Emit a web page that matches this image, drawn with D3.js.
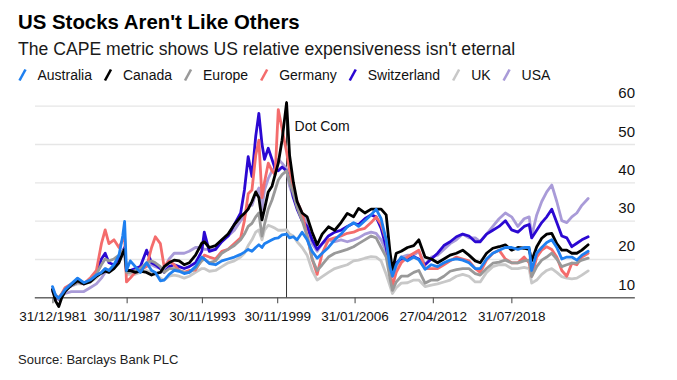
<!DOCTYPE html>
<html><head><meta charset="utf-8">
<script src="https://cdn.jsdelivr.net/npm/d3@7"></script>
<style>
html,body{margin:0;padding:0;background:#fff;}
svg{display:block;font-family:"Liberation Sans",Arial,Helvetica,sans-serif;}
</style></head><body>
<svg id="chart" width="677" height="380"></svg>
<script>
// ---- data (decimal years, CAPE values) ----
const dates = [1982.0,1982.25,1982.5,1982.75,1983.0,1983.5,1984.0,1984.5,1985.0,1985.5,
 1985.9,1986.2,1986.5,1986.9,1987.3,1987.6,1987.75,1987.9,1988.2,1988.6,
 1989.0,1989.5,1989.9,1990.2,1990.6,1990.9,1991.3,1991.7,
 1992.1,1992.5,1992.9,1993.4,1993.9,1994.1,1994.5,1995.0,1995.5,1996.0,1996.5,
 1997.0,1997.3,1997.6,1997.9,1998.2,1998.45,1998.7,1998.9,1999.2,1999.5,1999.75,
 2000.0,2000.3,2000.66,2000.9,2001.2,2001.5,2001.9,2002.3,2002.7,2003.1,2003.5,
 2004.0,2004.5,2005.0,2005.5,2006.0,2006.4,2006.9,2007.4,2007.8,2008.2,2008.6,2008.9,
 2009.1,2009.4,2009.8,2010.3,2010.8,2011.2,2011.7,2012.2,2012.7,2013.2,2013.7,2014.2,2014.7,
 2015.2,2015.7,2016.1,2016.6,2017.1,2017.6,2018.1,2018.6,2019.1,2019.6,2020.0,2020.2,2020.6,
 2021.0,2021.4,2021.8,2022.2,2022.6,2023.0,2023.4,2023.8,2024.2,2024.7];

const australia = [12.8,10.5,9.8,10.8,12,13.5,15,13.8,14.5,15.8,
 16.5,17.5,17,18.5,21,26,29.8,17,19.5,18,
 16.5,19,17,16.5,14.3,14.5,16,17,
 16.8,16.2,16.5,18,20.5,20,18.8,18.5,19.5,20,20.5,
 21.2,21.8,22.5,22,23,23.7,23,24,24.5,25,25.4,
 25.5,26.3,26.5,25.5,25.8,25,27,25,22,20.2,21.5,
 23,25,26.5,28.4,29.5,28.5,30,31.5,33,30.5,25,18,
 15.5,18.5,20.5,19.5,20.5,19.8,17.3,18.5,18,19,19.7,20,19.7,
 19,17.5,17.5,20,21.5,22.3,23,23,22.5,23,23,17,21.5,
 23,24.3,25,23,20,20.5,20.5,19.7,21,22];

const canada = [12,9,7.6,10,11.5,13.2,14.3,13.5,14,15.5,
 16.3,16.8,16.5,17.5,19,21.5,22.5,17,17,16.5,
 16.8,16.5,15.8,16.2,16.5,18,19,19.7,
 19.5,18.5,19,21,24.1,24.5,23,23.5,25,26.5,29,
 31,31.9,33,35,37.5,36,30.2,33,37.5,39,42,
 45,51,60.8,47,40,35,32,31,27,23.7,26.5,
 28.4,27.5,29.5,31.9,31,33.2,32,33,33,33,31.5,22,
 17,21.5,22,23,23.5,25,20.5,20,19,20,21,21.5,22.3,
 21,19.5,19,21.5,22.8,23.2,23.7,22.3,23,22.8,22.5,19.5,23.2,
 25.4,26.5,26.7,24,22.3,22.3,21.5,21.5,22.3,23.7];

const europe = [12,10.5,9.5,10.5,12,13,14,13.5,14.5,16,
 18.5,20,19.5,20,21,22,22.5,16.5,16.5,17,
 17.5,19,19.5,19,18,16.5,17.5,17.5,
 17,16.5,16.5,17.5,19.5,20,19,19.5,21.5,22.5,23.5,
 25,26.5,28.5,29.3,31,32,26,29,33,35.4,38,
 40.6,42,43,40,37,33.5,30,26,20,17,18.5,
 20.5,21.5,22,22.5,23.2,24,25,26,25.5,23,20.5,15,
 11.8,14,15.5,15.5,16.5,17,13.7,14.5,14.5,15.5,16.8,17.2,17.5,
 17.5,16.2,15.8,17.5,18.9,19.2,19.7,19,19,19.5,19.7,15.4,18,
 19.7,20.5,21.5,20,18,18.5,18.9,19,19.7,20.2];

const germany = [12,10.5,9.8,11,12.5,13.5,14,13.5,15,17,
 24,27.6,24,25,23,25,25.8,14,15,16.5,
 17.1,18,23,25.8,24,18,19.5,18.5,
 17,16.5,17,17.1,20,21,20.5,20,22,22.5,24,
 25.5,30,37,38,47,51,36,40,45,43,42,
 59,54,48,43,38,35,32,26,20,16,21.5,
 25,25.5,26,26.7,27,27.6,28,29.5,31,29,25,17,
 13,16.5,19,20.5,21.5,22.3,17.5,17.5,17.5,18.5,19.5,20.5,20,
 19.5,17.5,16.5,19.7,21.5,22.3,20,19,19,20.5,19,15.5,20.5,
 22.3,23.2,22.5,20.5,17,15.5,18.9,18.5,20.5,21.5];

const switzerland = [12,10,9.5,10.5,12,13,14,13.5,14.5,16.5,
 20,21.5,19,18.5,20,22,23,16.5,17,17.5,
 18,22.3,19,18.5,17.5,16.5,18,18.5,
 18,17.5,18,19,22,27,22,22.5,24.5,26,29,
 32,38,46.7,41.5,52,58,50,46,48.9,46,43.5,
 43,44,43,41,36,33,30,28.5,25,22.5,24,
 26,27,27.5,28.5,29.3,29,30.5,31.5,31,28,23,18,
 16.5,19,20,20,20.6,20,18.5,20,21.5,23.5,24.5,25.8,26.5,
 26,24.5,24.5,26.5,27.5,28.5,30,27.6,27,28.5,29,25.5,27.5,
 29.5,31,33,29.5,26,25.5,23.2,24.1,25,25.8];

const uk = [12,10.5,10,11,12,13,13.5,13.5,14,15,
 16.5,17.5,17,18,19.5,21,21.5,16,16,16,
 16.5,17,16.5,16,15,14.5,15.5,15.8,
 15.5,15,15.5,16.5,17.5,17.5,16.8,17,18,19,19.5,
 20.5,21.5,23.5,25,27,27.6,25,27.5,28.8,28.4,28,
 27.5,27.5,27.6,26.5,26,24.5,23,21,17,14.5,15.4,
 16.5,17.5,18,18.5,19.5,19.7,20.2,20.6,20.5,19.5,16,13,
 11,12.5,13.7,13.8,14.5,14.5,12.8,13.2,13.5,14,14.5,15.5,16,
 15.5,14,14,16.5,18,18.5,18.5,17.5,17.5,17.8,17.5,13.7,14.5,
 16,17,17.5,16.5,15.4,15,14.8,15,15.8,16.9];

const usa = [11.5,10,9.5,10.5,11,11.5,11.5,11.5,12.5,13.5,
 15,16.5,17,17.5,19.5,21.5,21,16.5,16.5,16.5,
 17.5,18.5,18.5,18,17.5,17.5,20,21.5,
 21.5,21.5,22,23,23,22.5,22.5,22.5,25,26,27.5,
 30,31,34,34,37,38.5,33,38,41,43,44,
 46,45,43.5,39,36,35,32,29,24,22,24,
 25,24.5,25,24.5,25,25.5,26.5,27,26.7,25,22,17,
 15.4,18,20.5,21,21,22,18.5,20.5,21,22.5,24,25,26.5,
 25.5,25.5,24.5,26.5,28.5,30.5,32,31,28.5,30.5,31,26,31.5,
 35,37.5,39.3,35,30,29.5,31,32,34,35.8];

const seriesNames = ["Australia","Canada","Europe","Germany","Switzerland","UK","USA"];
const seriesValues = [australia, canada, europe, germany, switzerland, uk, usa];
const seriesColors = ["#1f80f0","#000000","#999999","#f46c6c","#2b08d2","#c8c8c8","#a99bd8"];

const xTickDates = ["1981-12-31","1987-11-30","1993-11-30","1999-11-30","2006-01-31","2012-04-27","2018-07-31"];
const yTicks = [10,20,30,40,50,60];
const annotationDate = "2000-08-28";
const annotationLabel = "Dot Com";

const titleText = "US Stocks Aren't Like Others";
const subtitleText = "The CAPE metric shows US relative expensiveness isn't eternal";
const sourceText = "Source: Barclays Bank PLC";

// ---- helpers ----
function decYear(t){
  const yr = Math.floor(t);
  const s = Date.UTC(yr,0,1), e = Date.UTC(yr+1,0,1);
  return new Date(s + (t-yr)*(e-s));
}

const svg = d3.select("#chart");
svg.append("rect").attr("width",677).attr("height",380).attr("fill","#fff");

const x = d3.scaleUtc().domain([decYear(1980.55), decYear(2028.38)]).range([34.3, 634.3]);
const y = d3.scaleLinear().domain([10,60]).range([297.3,105.7]);

// Title / subtitle
svg.append("text").attr("x",18).attr("y",29.3)
  .attr("font-size",20.4).attr("font-weight","bold").attr("fill","#000").text(titleText);
svg.append("text").attr("x",18).attr("y",55)
  .attr("font-size",17.6).attr("fill","#1a1a1a").text(subtitleText);

// Legend
const legend = svg.append("g").attr("transform","translate(0,80)");
let lx = 18;
seriesNames.forEach((name,i)=>{
  const g = legend.append("g").attr("transform",`translate(${lx},0)`);
  g.append("line").attr("x1",1.5).attr("y1",0.5).attr("x2",7.5).attr("y2",-10.5)
    .attr("stroke",seriesColors[i]).attr("stroke-width",2.6).attr("stroke-linecap","butt");
  const t = g.append("text").attr("x",19.5).attr("y",0).attr("font-size",14).attr("fill","#111").text(name);
  lx += 19.5 + t.node().getComputedTextLength() + 11.5;
});

// Y axis with gridlines
const yAxis = svg.append("g").attr("transform","translate(635,0)")
  .call(d3.axisRight(y).tickValues(yTicks).tickSize(-600).tickFormat(d3.format("d")));
yAxis.select(".domain").remove();
yAxis.selectAll(".tick line").attr("stroke","#e6e6e6").attr("stroke-width",1.3);
yAxis.selectAll(".tick text").attr("x",0).attr("dy",null).attr("y",-8)
  .attr("text-anchor","end").attr("font-size",15).attr("fill","#111")
  .attr("font-family",'"Liberation Sans",Arial,sans-serif');

// X axis
const xAxis = svg.append("g").attr("transform","translate(0,297.3)")
  .call(d3.axisBottom(x).tickValues(xTickDates.map(d=>new Date(d+"T00:00:00Z")))
    .tickFormat(d3.utcFormat("%d/%m/%Y")).tickSize(6).tickSizeOuter(0));
xAxis.select(".domain").attr("stroke","#6a6a6a").attr("stroke-width",1.6);
xAxis.selectAll(".tick line").attr("stroke","#555").attr("stroke-width",1.1);
xAxis.selectAll(".tick text").attr("y",14).attr("font-size",13.5).attr("fill","#111")
  .attr("font-family",'"Liberation Sans",Arial,sans-serif');

// Annotation line
const ax = x(new Date(annotationDate+"T00:00:00Z"));
svg.append("line").attr("x1",ax).attr("x2",ax).attr("y1",y(61.2)).attr("y2",y(10))
  .attr("stroke","#333").attr("stroke-width",1);

// Lines (drawn in reverse legend order so Australia is on top)
const line = d3.line().x((d,i)=>x(decYear(dates[i]))).y(d=>y(d)).curve(d3.curveLinear);
const order = [6,5,4,3,2,1,0];
order.forEach(i=>{
  svg.append("path").datum(seriesValues[i]).attr("d",line)
    .attr("fill","none").attr("stroke",seriesColors[i]).attr("stroke-width",2.8)
    .attr("stroke-linejoin","round").attr("stroke-linecap","round");
});

svg.append("text").attr("x",ax+8).attr("y",130.7).attr("font-size",14).attr("fill","#111").text(annotationLabel);

// Source
svg.append("text").attr("x",18).attr("y",364).attr("font-size",13).attr("fill","#222").text(sourceText);
</script>
</body></html>
